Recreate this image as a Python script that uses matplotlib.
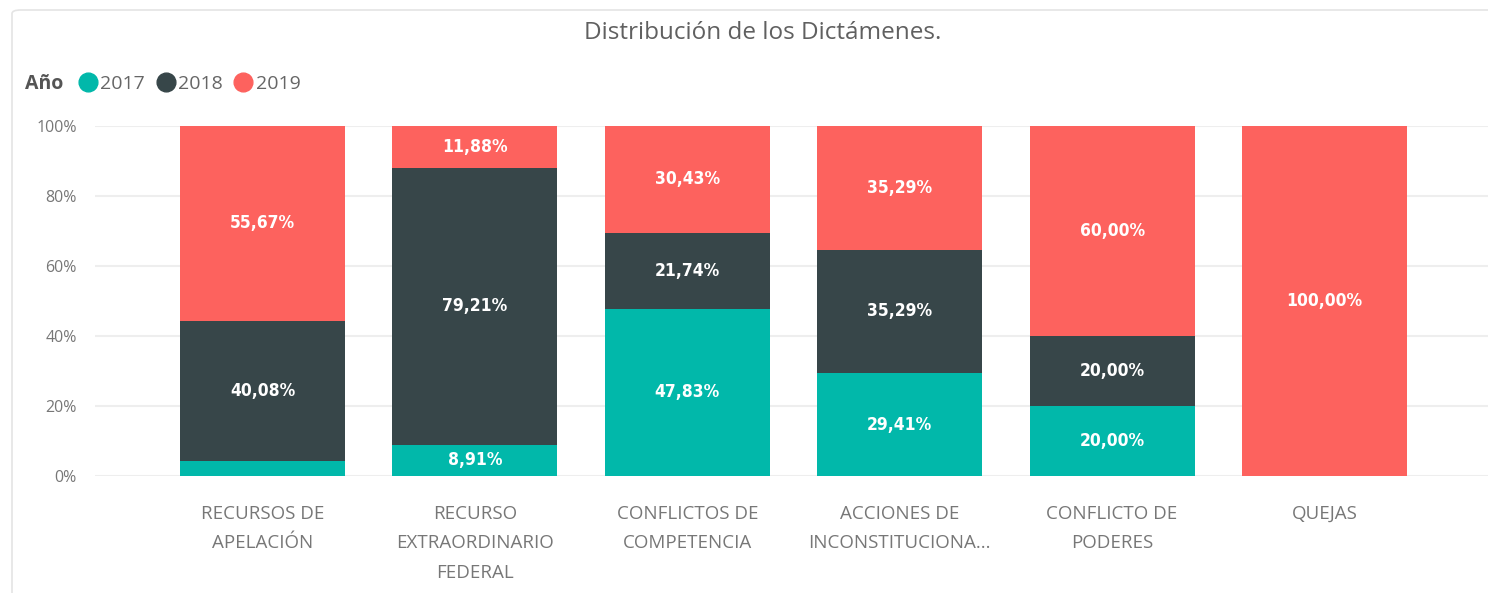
import matplotlib.pyplot as plt
import numpy as np
from matplotlib.lines import Line2D
from matplotlib.patches import FancyBboxPatch

categorias = ["RECURSOS DE\nAPELACIÓN", "RECURSO\nEXTRAORDINARIO\nFEDERAL",
              "CONFLICTOS DE\nCOMPETENCIA", "ACCIONES DE\nINCONSTITUCIONA...",
              "CONFLICTO DE\nPODERES", "QUEJAS"]
anios = ["2017", "2018", "2019"]
v2017 = [4.25, 8.91, 47.83, 29.41, 20.00, 0.0]
v2018 = [40.08, 79.21, 21.74, 35.29, 20.00, 0.0]
v2019 = [55.67, 11.88, 30.43, 35.29, 60.00, 100.00]
colores = ["#01B8AA", "#374649", "#FD625E"]

plt.rcParams['font.family'] = ['Open Sans', 'DejaVu Sans']

fig = plt.figure(figsize=(14.88, 5.93), dpi=100)
ax = fig.add_axes([95 / 1488, 1 - 476 / 593, 1 - 95 / 1488, 350 / 593])

# marco del visual
marco = FancyBboxPatch((12 / 1488, -0.05), 1.2, 1.0 - 10 / 593 + 0.05,
                       boxstyle="round,pad=0,rounding_size=0.006",
                       transform=fig.transFigure, facecolor='none',
                       edgecolor='#e4e4e4', linewidth=1.2, zorder=0)
fig.add_artist(marco)

x = np.arange(len(categorias))
ancho = 0.777
fondo = np.zeros(len(categorias))
for serie, color in zip([v2017, v2018, v2019], colores):
    vals = np.array(serie)
    ax.bar(x, vals, ancho, bottom=fondo, color=color, zorder=3)
    for xi, v, b in zip(x, vals, fondo):
        if v >= 5:
            ax.text(xi, b + v / 2, f"{v:.2f}%".replace('.', ','),
                    ha='center', va='center', color='white', fontsize=12.5,
                    fontweight='bold', fontstretch='condensed', zorder=4,
                    family=['DejaVu Sans'])
    fondo = fondo + vals

ax.set_xlim(-0.789, 5.77)
ax.set_ylim(0, 100)
ax.set_yticks([0, 20, 40, 60, 80, 100])
ax.set_yticklabels([f"{t}%" for t in [0, 20, 40, 60, 80, 100]])
ax.set_xticks(x)
ax.set_xticklabels(categorias, linespacing=1.8)
ax.tick_params(axis='both', length=0, colors='#777777', labelsize=11.5)
ax.tick_params(axis='x', pad=21, labelsize=13.5)
ax.tick_params(axis='y', pad=13)
ax.grid(axis='y', color='#eeeeee', linewidth=1.5, zorder=0)
for s in ax.spines.values():
    s.set_visible(False)

fig.text(763 / 1488, 1 - 33 / 593, "Distribución de los Dictámenes.",
         ha='center', va='center', fontsize=17.5, color='#606060')

fig.text(25 / 1488, 1 - 84 / 593, "Año", ha='left', va='center',
         fontsize=14, fontweight='bold', color='#555555')
manijas = [Line2D([], [], marker='o', linestyle='', markersize=13.5, color=c)
           for c in colores]
fig.legend(manijas, anios, loc='center left',
           bbox_to_anchor=(78 / 1488, 1 - 84 / 593), ncol=3, frameon=False,
           handletextpad=0.15, columnspacing=0.55, handlelength=1.0,
           borderaxespad=0, borderpad=0, labelcolor='#666666', fontsize=14)

fig.savefig("out.png", dpi=100, facecolor='white')
